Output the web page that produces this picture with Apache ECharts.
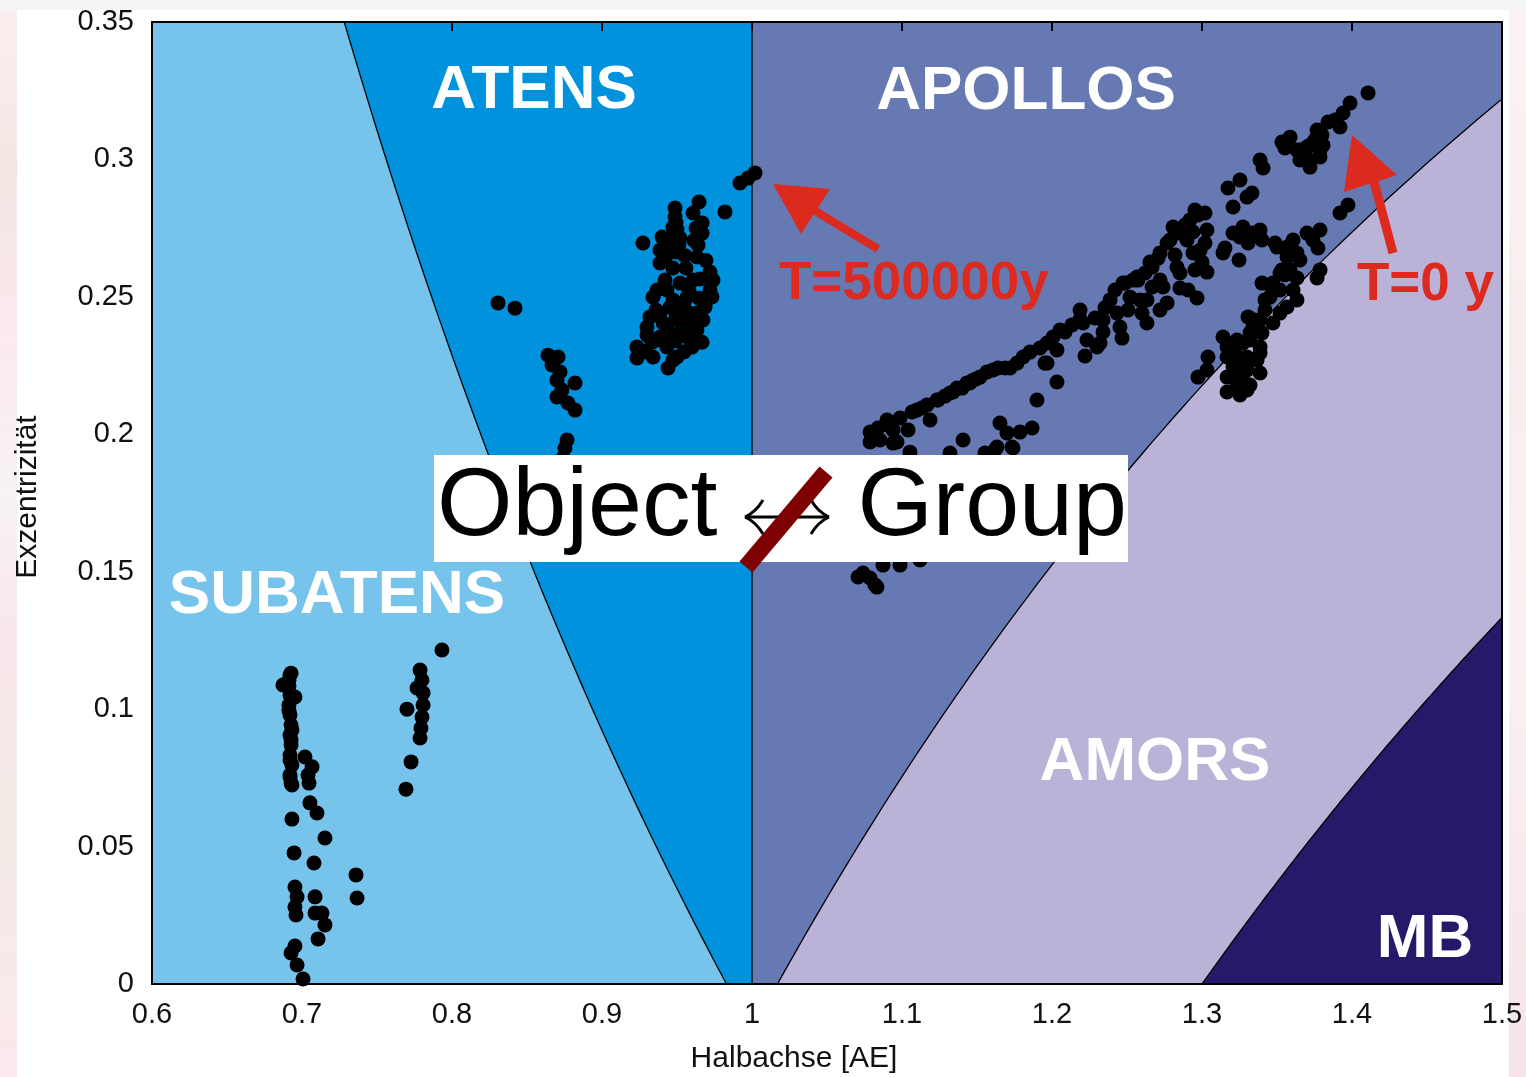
<!DOCTYPE html>
<html>
<head>
<meta charset="utf-8">
<script src="https://cdn.jsdelivr.net/npm/echarts/dist/echarts.min.js"></script>
<style>
  html, body { margin: 0; padding: 0; background: #ffffff; }
  #chart { width: 1526px; height: 1077px; }
</style>
</head>
<body>
<div id="chart"></div>
<script>
// Axis ranges and ticks
const xMin = 0.6, xMax = 1.5, xStep = 0.1;
const yMin = 0, yMax = 0.35, yStep = 0.05;
const topTickValues = [0.8, 0.9, 1.0, 1.1, 1.2, 1.3, 1.4];

// Orbit-class limits in AE: aphelion for Subatens/Atens, perihelion for Apollos/Amors and Amors/main belt
const atenAphelion = 0.983;
const earthAxis = 1.0;
const amorPerihelion = 1.017;
const beltPerihelion = 1.3;

// Group regions, drawn left to right
const regionNames = ['SUBATENS', 'ATENS', 'APOLLOS', 'AMORS', 'MB'];
const regionColors = ['#76c3ec', '#0092dd', '#6679b3', '#bab2d7', '#27196a'];

// Orbit states of the object: [Halbachse (AE), Exzentrizität]
const subatensColumnA = [
  [0.6927,0.1131],[0.6873,0.1088],[0.6953,0.1044],[0.692,0.1124],[0.6913,0.1084],[0.692,0.1051],
  [0.6913,0.1015],[0.692,0.0979],[0.6927,0.0942],[0.6933,0.0924],[0.692,0.0906],[0.6927,0.087],
  [0.692,0.0833],[0.6933,0.0797],[0.692,0.076],[0.6927,0.0731],[0.692,0.0753],[0.6933,0.0724],
  [0.6913,0.0995],[0.6927,0.0888],[0.692,0.0815],[0.6913,0.1105]
];
const subatensScatterA = [
  [0.702,0.0826],[0.7067,0.079],[0.704,0.076],[0.7047,0.0731],[0.7053,0.0659],[0.71,0.0622],
  [0.6933,0.06],[0.7153,0.0531],[0.6947,0.0477],[0.708,0.044],[0.736,0.0397],[0.7367,0.0313],
  [0.6953,0.0353],[0.6967,0.0317],[0.6953,0.028],[0.696,0.0251],[0.7087,0.0317],[0.7087,0.0258],
  [0.7133,0.0258],[0.7153,0.0215],[0.7107,0.0164],[0.6953,0.0138],[0.6927,0.0113],[0.6967,0.0069],
  [0.7007,0.0018]
];
const subatensColumnB = [
  [0.7787,0.1142],[0.78,0.1106],[0.7767,0.1077],[0.7807,0.1059],[0.7807,0.1015],[0.77,0.1],
  [0.78,0.0971],[0.7793,0.0931],[0.7787,0.0895],[0.7727,0.0808],[0.7693,0.0709],[0.7933,0.1215]
];
const atensChain = [
  [0.8307,0.2478],[0.842,0.2459],[0.864,0.2288],[0.8707,0.2281],[0.8667,0.2252],[0.872,0.2227],
  [0.87,0.2197],[0.882,0.2187],[0.8733,0.2161],[0.87,0.2136],[0.8773,0.2114],[0.882,0.2088],
  [0.8767,0.1979],[0.8753,0.195],[0.874,0.1914]
];
const atensCluster = [
  [0.9487,0.2823],[0.9487,0.2791],[0.9473,0.2753],[0.9473,0.2718],[0.9647,0.2845],[0.9607,0.2805],
  [0.9667,0.2769],[0.9667,0.2732],[0.964,0.2689],[0.9633,0.2645],[0.982,0.2809],[0.9273,0.2696],
  [0.94,0.2718],[0.9387,0.267],[0.952,0.2714],[0.95,0.2663],[0.9387,0.2623],[0.9473,0.2605],
  [0.972,0.259],[0.974,0.2561],[0.942,0.2561],[0.9367,0.2525],[0.934,0.2499],[0.952,0.255],
  [0.9607,0.2561],[0.972,0.2525],[0.97,0.2489],[0.9567,0.2499],[0.9473,0.2489],[0.932,0.2427],
  [0.9387,0.2441],[0.952,0.2452],[0.9633,0.2441],[0.9673,0.2416],[0.93,0.239],[0.9433,0.239],
  [0.9567,0.2405],[0.93,0.2361],[0.9387,0.2354],[0.952,0.2369],[0.9633,0.2379],[0.9233,0.2318],
  [0.9233,0.2278],[0.934,0.2281],[0.9433,0.2318],[0.95,0.2281],[0.96,0.2318],[0.944,0.2241],
  [0.9473,0.227],[0.9367,0.2343],[0.9567,0.2354],
  [0.9433,0.2525],[0.9453,0.2463],[0.9493,0.2427],[0.9547,0.2478],[0.958,0.2441],[0.9613,0.2405],
  [0.9527,0.2405],[0.9453,0.2354],[0.9407,0.2405],[0.936,0.2452],[0.958,0.2525],[0.9647,0.2495],
  [0.9687,0.2463],[0.9653,0.2565],[0.956,0.2605],[0.9427,0.265],[0.9553,0.265],[0.9693,0.2632],
  [0.95,0.2745],[0.9493,0.277],[0.9627,0.275],[0.9613,0.2705],[0.9333,0.2335],[0.928,0.23],
  [0.9487,0.234],[0.9547,0.23],[0.9613,0.235],[0.9667,0.2335],[0.9733,0.25],[0.9513,0.269],
  [0.9433,0.269]
];
const earliestStates = [[0.992,0.2914],[0.9973,0.2932],[1.002,0.2951]];
const apollosLowerBranch = [
  [1.0787,0.2008],[1.0787,0.1972],[1.09,0.2052],[1.094,0.2016],[1.0967,0.1972],[1.104,0.2016],
  [1.11,0.2088],[1.1167,0.2107],[1.1233,0.2125],[1.1187,0.2052],[1.132,0.215],[1.1367,0.2168],
  [1.1433,0.2187],[1.1473,0.2197],[1.152,0.2208],[1.1567,0.2227],[1.164,0.2241],[1.172,0.2241],
  [1.1807,0.2281],[1.192,0.2314],[1.2007,0.2354],[1.1967,0.2259],[1.2033,0.219],[1.19,0.2125],
  [1.1653,0.2041],[1.17,0.2005],[1.1787,0.2008],[1.1867,0.2023],[1.1407,0.1979],[1.1633,0.1954],
  [1.1733,0.1954],[1.0907,0.2034],[1.1053,0.1935],[1.094,0.1968],[1.132,0.1932],[1.174,0.195],
  [1.162,0.1943],[1.1553,0.1932],[1.124,0.2125],[1.1453,0.2187],[1.134,0.2154],
  [1.2053,0.2379],[1.2033,0.2307],[1.1953,0.2259],
  [1.084,0.2023],[1.0987,0.2059],[1.1067,0.2081],[1.1133,0.2096],[1.1287,0.2139],[1.14,0.2168],
  [1.1493,0.2201],[1.1607,0.2234],[1.1687,0.2241],[1.1767,0.2259],[1.1853,0.2299],[1.1967,0.2332],
  [1.2087,0.2372],[1.2133,0.2398],[1.0853,0.1979],
  [1.0707,0.1481],[1.082,0.1452],[1.0787,0.1477],[1.0873,0.1524],[1.0987,0.1524],[1.074,0.1495],
  [1.0833,0.1444],[1.112,0.1543]
];
const apollosMiddleBranch = [
  [1.2187,0.2452],[1.2187,0.2419],[1.2233,0.2343],[1.222,0.2285],[1.23,0.2318],[1.234,0.2416],
  [1.234,0.2372],[1.2453,0.239],[1.2467,0.235],[1.2433,0.2441],[1.2487,0.255],[1.252,0.2499],
  [1.2567,0.2572],[1.2207,0.2405],[1.232,0.2332],[1.2473,0.255],[1.2573,0.2561],[1.262,0.2587],
  [1.26,0.2441],[1.2633,0.2405],[1.272,0.2452],[1.2767,0.2478],[1.2667,0.2608],[1.272,0.266],
  [1.2767,0.2696],[1.2807,0.2754],[1.2853,0.2732],[1.292,0.278],[1.2953,0.2816],[1.302,0.2805],
  [1.3033,0.2743],[1.302,0.2696],[1.2987,0.267],[1.294,0.266],[1.29,0.2707],[1.3,0.2627],
  [1.2953,0.2598],[1.3033,0.259],[1.2853,0.2587],[1.2853,0.2532],[1.2907,0.2525],[1.2967,0.2496],
  [1.2833,0.2608],[1.274,0.2536],[1.2667,0.2536],[1.2633,0.2489],
  [1.2387,0.2489],[1.242,0.2525],[1.254,0.2561],[1.2653,0.2627],[1.2707,0.2641],[1.2787,0.2707],
  [1.2887,0.2761],[1.2973,0.2798],[1.294,0.2736],[1.282,0.2652],[1.272,0.2561],[1.2287,0.2423],
  [1.2353,0.246],[1.2587,0.2489],[1.2507,0.2452]
];
const apollosUpperBranch = [
  [1.3173,0.2896],[1.3253,0.2925],[1.3207,0.2827],[1.33,0.2863],[1.3333,0.2878],[1.3387,0.2998],
  [1.3407,0.2969],[1.3533,0.3063],[1.3587,0.3081],[1.3633,0.3034],[1.37,0.3005],[1.372,0.2972],
  [1.3767,0.3107],[1.3807,0.3052],[1.384,0.3136],[1.392,0.3118],[1.394,0.3169],[1.3987,0.3205],
  [1.4107,0.3242],[1.3787,0.3009],[1.37,0.3045],[1.392,0.2805],[1.3973,0.2834],
  [1.3653,0.3034],[1.372,0.3052],[1.3753,0.3071],[1.38,0.3089],[1.3653,0.2998],[1.3787,0.3034],
  [1.3887,0.3143],[1.3553,0.3042],
  [1.3207,0.2732],[1.3273,0.2754],[1.334,0.2732],[1.3387,0.2743],[1.34,0.2707],[1.3307,0.2696],
  [1.3253,0.2718],[1.3153,0.2678],[1.314,0.266],[1.3247,0.2634],[1.3487,0.2696],[1.35,0.2681],
  [1.3567,0.2681],[1.3607,0.2707],[1.3633,0.266],[1.3567,0.2645],[1.37,0.2732],[1.374,0.2707],
  [1.3773,0.2678],[1.3787,0.2743]
];
const amorsBorderBranch = [
  [1.3787,0.2598],[1.3767,0.2569],[1.3587,0.2598],[1.3633,0.2569],[1.352,0.2587],[1.3473,0.255],
  [1.352,0.2525],[1.3607,0.2525],[1.3633,0.2489],[1.3567,0.2463],[1.3453,0.2499],[1.342,0.2452],
  [1.352,0.2441],[1.3387,0.2416],[1.3473,0.2405],[1.3307,0.2427],[1.334,0.239],[1.332,0.2369],
  [1.34,0.2369],[1.314,0.2354],[1.3233,0.2343],[1.3167,0.2318],[1.3273,0.2332],[1.3387,0.2318],
  [1.3387,0.2296],[1.33,0.2281],[1.3167,0.2281],[1.3207,0.2245],[1.33,0.2234],[1.3387,0.2223],
  [1.3167,0.2208],[1.3273,0.2197],[1.3167,0.2154],[1.33,0.2161],[1.3233,0.2187],[1.304,0.2281],
  [1.3033,0.2234],[1.2973,0.2208],[1.34,0.255],[1.3533,0.2598],
  [1.322,0.2307],[1.332,0.2343],[1.3353,0.2416],[1.342,0.2489],[1.3453,0.2543],[1.3553,0.258],
  [1.3653,0.2634],[1.3253,0.227],[1.322,0.2216],[1.332,0.2179],[1.3253,0.2143],[1.3367,0.227]
];
const pointGroups = [subatensColumnA, subatensScatterA, subatensColumnB, atensChain, atensCluster,
  earliestStates, apollosLowerBranch, apollosMiddleBranch, apollosUpperBranch, amorsBorderBranch];

// Region outlines from the orbit-class limits
function sampleCurve(fn, e0, e1, steps) {
  const pts = [];
  for (let i = 0; i <= steps; i++) {
    const e = e0 + (e1 - e0) * i / steps;
    pts.push([fn(e), e]);
  }
  return pts;
}
const aphelionEdge = e => atenAphelion / (1 + e);
const perihelionEdge = q => e => q / (1 - e);
const eAmorAtRight = 1 - amorPerihelion / xMax;
const eBeltAtRight = 1 - beltPerihelion / xMax;

const atenCurve = sampleCurve(aphelionEdge, 0, yMax, 80);
const amorCurve = sampleCurve(perihelionEdge(amorPerihelion), 0, eAmorAtRight, 80);
const beltCurve = sampleCurve(perihelionEdge(beltPerihelion), 0, eBeltAtRight, 60);

const regionPolygons = [
  [[xMin, 0], ...atenCurve, [xMin, yMax]],
  [...atenCurve, [earthAxis, yMax], [earthAxis, 0]],
  [[earthAxis, 0], ...amorCurve, [xMax, yMax], [earthAxis, yMax]],
  [...amorCurve, ...beltCurve.slice().reverse()],
  [...beltCurve, [xMax, 0]]
];
const boundaryLines = [atenCurve, [[earthAxis, 0], [earthAxis, yMax]], amorCurve, beltCurve];

const fmt = v => String(parseFloat(v.toFixed(2)));
const tickFont = { fontFamily: 'Liberation Sans, Arial, sans-serif', fontSize: 29, color: '#111' };

const chart = echarts.init(document.getElementById('chart'), null, { renderer: 'canvas' });

const scatterSeries = pointGroups.map(g => ({
  type: 'scatter',
  data: g,
  symbol: 'circle',
  symbolSize: 15,
  itemStyle: { color: '#000', opacity: 1 },
  z: 4,
  silent: true,
  animation: false
}));

const whiteText = (text, x, y) => ({
  type: 'text', z: 50, x, y,
  style: { text, fill: '#fff', font: 'bold 62px "Liberation Sans", Arial, sans-serif',
           textAlign: 'center', textVerticalAlign: 'middle' }
});
const redText = (text, x, y) => ({
  type: 'text', z: 50, x, y,
  style: { text, fill: '#dd2a1f', font: 'bold 53px "Liberation Sans", Arial, sans-serif',
           textAlign: 'left', textVerticalAlign: 'middle' }
});

chart.setOption({
  animation: false,
  backgroundColor: '#ffffff',
  grid: { left: 152, right: 24, top: 22, bottom: 93, containLabel: false, outerBoundsMode: 'none' },
  xAxis: [{
    type: 'value', min: xMin, max: xMax, interval: xStep, position: 'bottom', z: 10,
    axisLine: { show: true, onZero: false, lineStyle: { color: '#000', width: 2 } },
    axisTick: { show: false },
    axisLabel: Object.assign({ margin: 16, formatter: fmt }, tickFont),
    splitLine: { show: false }
  }, {
    type: 'value', min: xMin, max: xMax, interval: xStep, position: 'top', z: 10,
    axisLine: { show: true, onZero: false, lineStyle: { color: '#000', width: 2 } },
    axisTick: { show: false },
    axisLabel: { show: false }, splitLine: { show: false }
  }],
  yAxis: [{
    type: 'value', min: yMin, max: yMax, interval: yStep, position: 'left', z: 10,
    axisLine: { show: true, onZero: false, lineStyle: { color: '#000', width: 2 } },
    axisTick: { show: false },
    axisLabel: Object.assign({ margin: 18, formatter: fmt }, tickFont),
    splitLine: { show: false }
  }, {
    type: 'value', min: yMin, max: yMax, interval: yStep, position: 'right', z: 10,
    axisLine: { show: true, onZero: false, lineStyle: { color: '#000', width: 2 } },
    axisTick: { show: false }, axisLabel: { show: false }, splitLine: { show: false }
  }],
  series: [{
    type: 'custom',
    clip: true,
    z: 1,
    silent: true,
    data: regionNames.map((n, i) => [earthAxis, 0.1, i]),
    encode: { x: 0, y: 1 },
    renderItem: (params, api) => ({
      type: 'polygon',
      shape: { points: regionPolygons[params.dataIndex].map(p => api.coord(p)) },
      style: { fill: regionColors[params.dataIndex], stroke: null }
    })
  }, {
    type: 'custom',
    clip: true,
    z: 2,
    silent: true,
    data: boundaryLines.map((l, i) => [earthAxis, 0.1, i]),
    encode: { x: 0, y: 1 },
    renderItem: (params, api) => ({
      type: 'polyline',
      shape: { points: boundaryLines[params.dataIndex].map(p => api.coord(p)) },
      style: { stroke: '#000', lineWidth: 1.3, fill: null }
    })
  }, {
    // short inward ticks along the top edge
    type: 'custom',
    z: 5,
    silent: true,
    data: topTickValues.map(v => [v, yMax]),
    encode: { x: 0, y: 1 },
    renderItem: (params, api) => {
      const p = api.coord([api.value(0), api.value(1)]);
      return { type: 'line', shape: { x1: p[0], y1: p[1], x2: p[0], y2: p[1] + 9 },
               style: { stroke: '#000', lineWidth: 2 } };
    }
  }].concat(scatterSeries),
  graphic: [
    // faint edge bands of the page
    { type: 'rect', z: -10, shape: { x: 0, y: 0, width: 1526, height: 10 }, style: { fill: '#f4f5f7' } },
    { type: 'rect', z: -10, shape: { x: 0, y: 10, width: 17, height: 1067 },
      style: { fill: new echarts.graphic.LinearGradient(0, 0, 0, 1, [
        { offset: 0, color: '#fbeef0' }, { offset: 0.15, color: '#f3e6e2' }, { offset: 0.3, color: '#fbe9ee' },
        { offset: 0.45, color: '#f7f2f4' }, { offset: 0.6, color: '#f8e6ea' }, { offset: 0.75, color: '#f3ebe6' },
        { offset: 1, color: '#fae8ec' }]) } },
    { type: 'rect', z: -10, shape: { x: 1509, y: 10, width: 17, height: 1067 },
      style: { fill: new echarts.graphic.LinearGradient(0, 0, 0, 1, [
        { offset: 0, color: '#fbf3f3' }, { offset: 0.3, color: '#f7eeee' }, { offset: 0.6, color: '#f9f1f1' },
        { offset: 1, color: '#f6e4e8' }]) } },

    // axis titles
    { type: 'text', z: 50, x: 794, y: 1059,
      style: { text: 'Halbachse [AE]', font: '30px "Liberation Sans", Arial, sans-serif', fill: '#111',
               textAlign: 'center', textVerticalAlign: 'middle' } },
    { type: 'text', z: 50, x: 28, y: 497, rotation: Math.PI / 2,
      style: { text: 'Exzentrizität', font: '30px "Liberation Sans", Arial, sans-serif', fill: '#111',
               textAlign: 'center', textVerticalAlign: 'middle' } },

    // group names
    whiteText('ATENS', 534, 91),
    whiteText('APOLLOS', 1026, 92),
    whiteText('SUBATENS', 337, 596),
    whiteText('AMORS', 1155, 763),
    whiteText('MB', 1425, 940),

    // time markers
    redText('T=500000y', 779, 284),
    redText('T=0 y', 1357, 285),
    { type: 'line', z: 50, shape: { x1: 878, y1: 249, x2: 812, y2: 209 },
      style: { stroke: '#dd2a1f', lineWidth: 8 } },
    { type: 'polygon', z: 50, shape: { points: [[773, 184], [801, 234], [830, 189]] },
      style: { fill: '#dd2a1f' } },
    { type: 'line', z: 50, shape: { x1: 1393, y1: 253, x2: 1373, y2: 178 },
      style: { stroke: '#dd2a1f', lineWidth: 9 } },
    { type: 'polygon', z: 50, shape: { points: [[1352, 135], [1344, 192], [1397, 175]] },
      style: { fill: '#dd2a1f' } },

    // crossed-out relation box
    { type: 'rect', z: 60, shape: { x: 434, y: 455, width: 694, height: 107 }, style: { fill: '#ffffff' } },
    { type: 'text', z: 61, x: 437, y: 508,
      style: { text: 'Object', font: '97px "Liberation Sans", Arial, sans-serif', fill: '#000',
               textAlign: 'left', textVerticalAlign: 'middle' } },
    { type: 'text', z: 61, x: 1127, y: 508,
      style: { text: 'Group', font: '97px "Liberation Sans", Arial, sans-serif', fill: '#000',
               textAlign: 'right', textVerticalAlign: 'middle' } },
    { type: 'polyline', z: 61, shape: { points: [[745, 517], [829, 517]] },
      style: { stroke: '#000', lineWidth: 3, fill: null } },
    { type: 'bezierCurve', z: 61, shape: { x1: 745, y1: 517, x2: 763, y2: 500, cpx1: 756, cpy1: 512 },
      style: { stroke: '#000', lineWidth: 3, fill: null } },
    { type: 'bezierCurve', z: 61, shape: { x1: 745, y1: 517, x2: 763, y2: 534, cpx1: 756, cpy1: 522 },
      style: { stroke: '#000', lineWidth: 3, fill: null } },
    { type: 'bezierCurve', z: 61, shape: { x1: 829, y1: 517, x2: 811, y2: 500, cpx1: 818, cpy1: 512 },
      style: { stroke: '#000', lineWidth: 3, fill: null } },
    { type: 'bezierCurve', z: 61, shape: { x1: 829, y1: 517, x2: 811, y2: 534, cpx1: 818, cpy1: 522 },
      style: { stroke: '#000', lineWidth: 3, fill: null } },
    { type: 'line', z: 62, shape: { x1: 746, y1: 567, x2: 826, y2: 472 },
      style: { stroke: '#7f0000', lineWidth: 17, lineCap: 'butt' } }
  ]
});
</script>
</body>
</html>
